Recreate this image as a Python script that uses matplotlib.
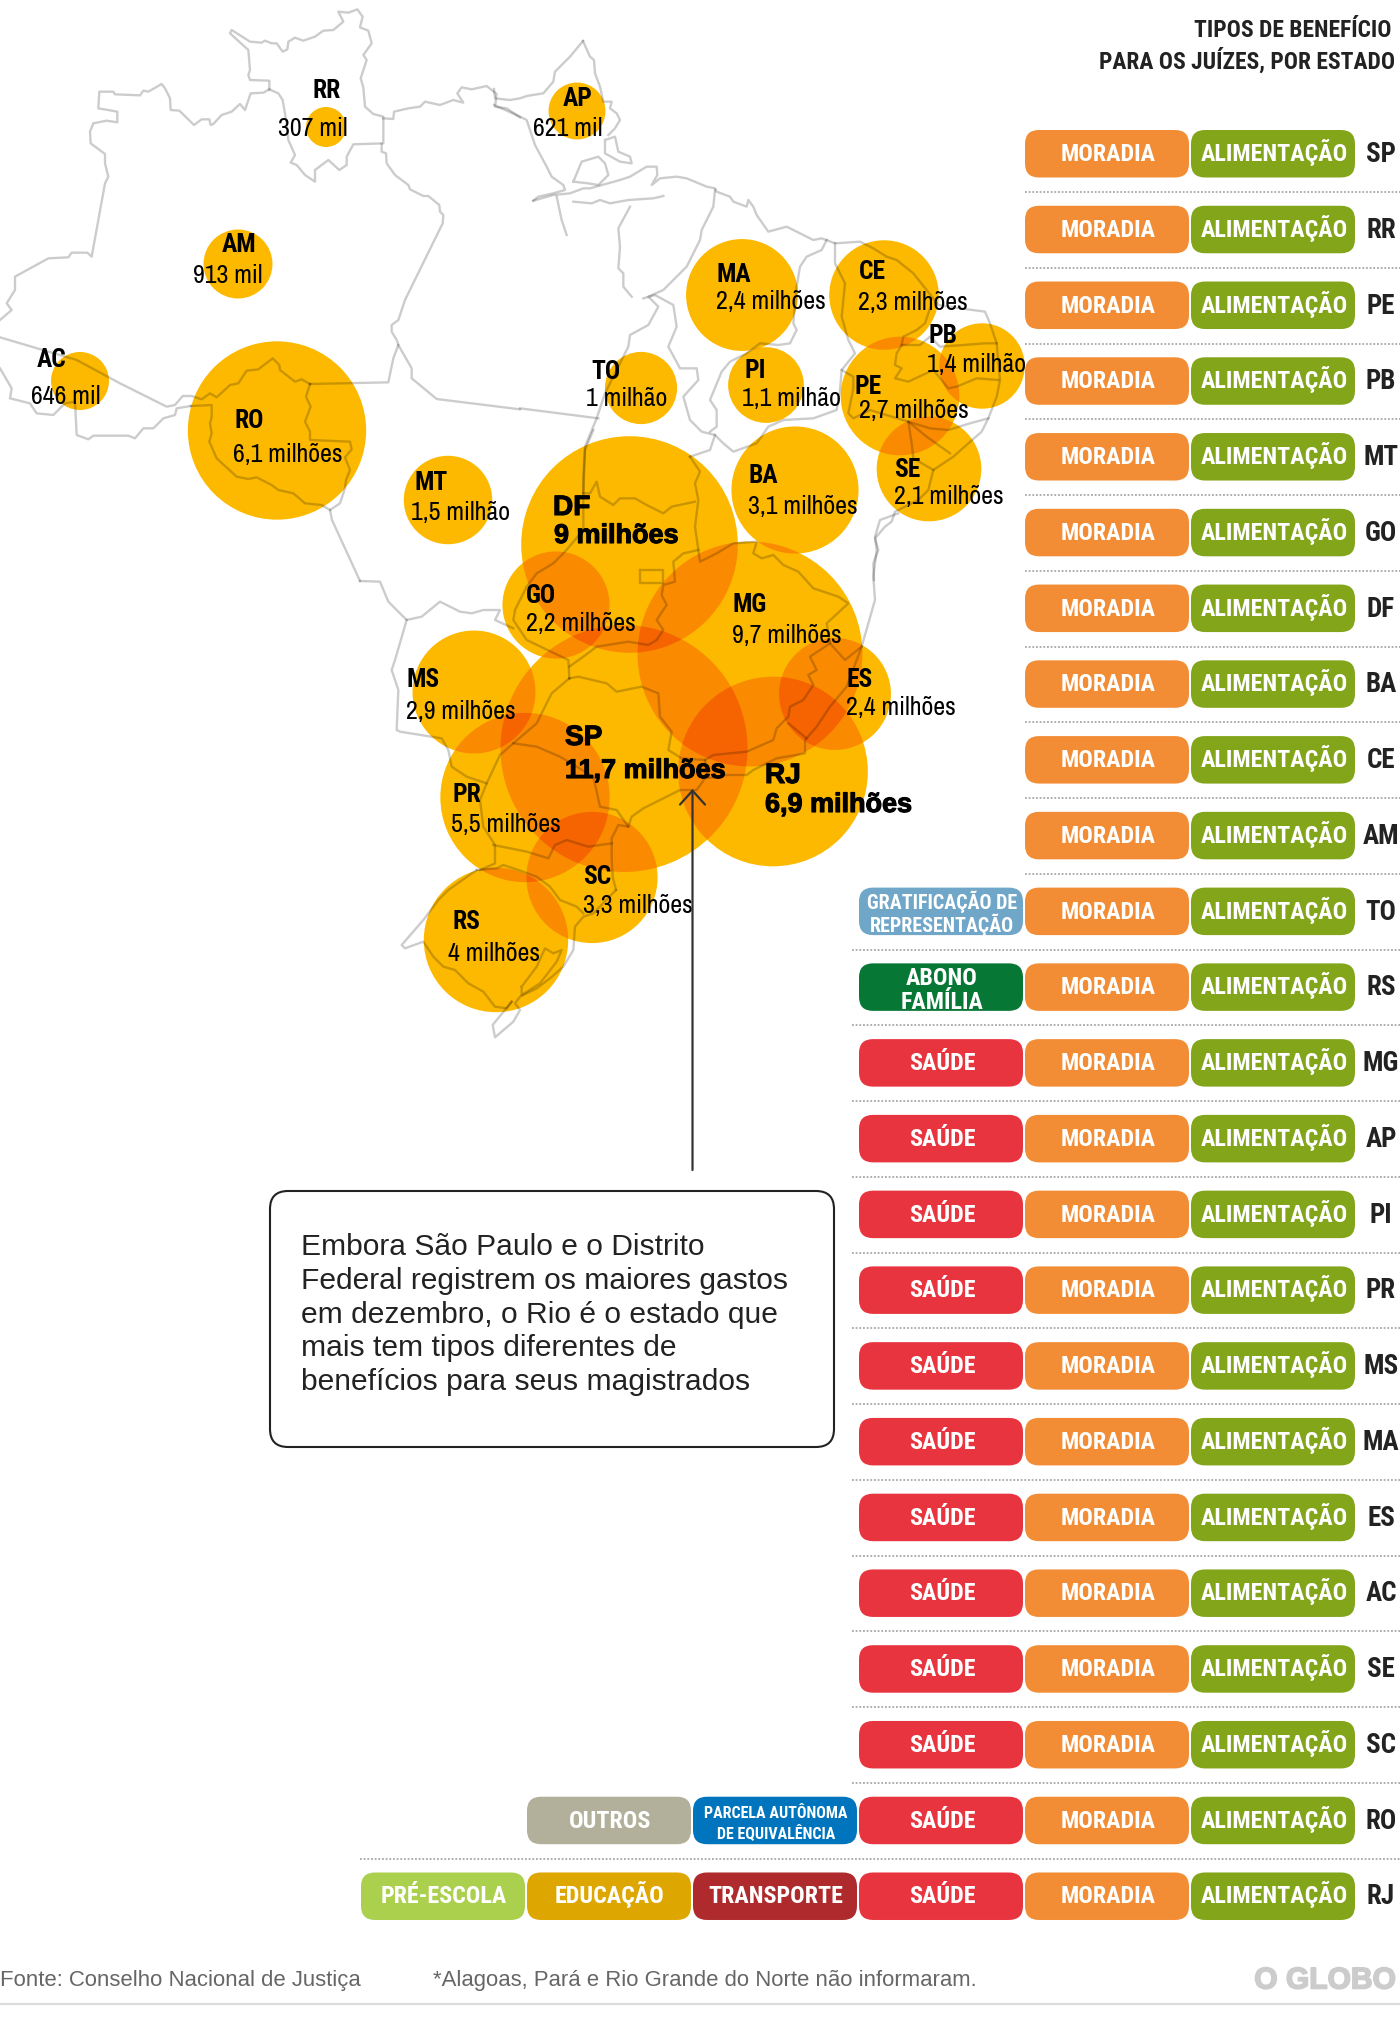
import itertools

import numpy as np
import matplotlib
matplotlib.use('Agg')
import matplotlib.pyplot as plt
import matplotlib.patheffects as pe
from matplotlib import font_manager
from matplotlib.patches import Circle, FancyBboxPatch, Polygon

installed = {f.name for f in font_manager.fontManager.ttflist}


def fonts(*names):
    return [n for n in names if n in installed] + ['Liberation Sans', 'DejaVu Sans']


NARROW = fonts('Archivo Narrow', 'Roboto Condensed')
PILL = fonts('Roboto Condensed', 'Archivo Narrow')
SANS = ['Liberation Sans', 'DejaVu Sans']

# map bubbles: value in millions, centre
states = ['RR', 'AP', 'AM', 'AC', 'RO', 'TO', 'MA', 'CE', 'PI', 'PB', 'PE', 'BA', 'SE', 'MT',
          'DF', 'GO', 'MG', 'MS', 'SP', 'PR', 'ES', 'RJ', 'SC', 'RS']
values = [0.307, 0.621, 0.913, 0.646, 6.1, 1.0, 2.4, 2.3, 1.1, 1.4, 2.7, 3.1, 2.1, 1.5,
          9.0, 2.2, 9.7, 2.9, 11.7, 5.5, 2.4, 6.9, 3.3, 4.0]
value_labels = ['307 mil', '621 mil', '913 mil', '646 mil', '6,1 milhões', '1 milhão', '2,4 milhões',
                '2,3 milhões', '1,1 milhão', '1,4 milhão', '2,7 milhões', '3,1 milhões', '2,1 milhões',
                '1,5 milhão', '9 milhões', '2,2 milhões', '9,7 milhões', '2,9 milhões', '11,7 milhões',
                '5,5 milhões', '2,4 milhões', '6,9 milhões', '3,3 milhões', '4 milhões']
centre_x = [326, 577, 238, 80, 277, 641, 742, 884, 766, 982, 900, 795, 929, 448,
            629.5, 556, 750, 474, 624, 525, 835, 773, 592, 496]
centre_y = [127, 111, 264, 381, 430.5, 388, 295, 295, 385, 366, 396, 490, 469, 500,
            544.5, 605, 654, 692, 748.5, 797.5, 694, 771.5, 877.5, 940]
# left edge and baseline of the two labels of each bubble
name_x = [313, 563, 222, 37, 234, 591, 717, 859, 745, 929, 854, 749, 894, 414,
          553, 526, 733, 406, 565, 452, 847, 765, 583, 453]
name_y = [98, 106, 252, 367, 428, 379, 282, 279, 378, 343, 394, 483, 477, 490,
          515, 603, 612, 687, 745, 802, 687, 783, 884, 929]
val_x = [278, 533, 193, 31, 233, 586, 716, 858, 742, 927, 859, 748, 894, 411,
         554, 526, 732, 406, 565, 451, 846, 765, 583, 448]
val_y = [136, 136, 283, 404, 462, 406, 309, 310, 406, 372, 418, 514, 504, 520,
         543, 631, 643, 719, 778, 832, 715, 812, 913, 961]
big_states = ['DF', 'SP', 'RJ']

# benefit table, one row per state, listed right to left
row_states = ['SP', 'RR', 'PE', 'PB', 'MT', 'GO', 'DF', 'BA', 'CE', 'AM', 'TO', 'RS', 'MG', 'AP',
              'PI', 'PR', 'MS', 'MA', 'ES', 'AC', 'SE', 'SC', 'RO', 'RJ']
base = ['ALIMENTAÇÃO', 'MORADIA']
saude = base + ['SAÚDE']
row_benefits = [base] * 10 + [
    base + ['GRATIFICAÇÃO DE\nREPRESENTAÇÃO'],
    base + ['ABONO\nFAMÍLIA'],
] + [saude] * 10 + [
    saude + ['PARCELA AUTÔNOMA\nDE EQUIVALÊNCIA', 'OUTROS'],
    saude + ['TRANSPORTE', 'EDUCAÇÃO', 'PRÉ-ESCOLA'],
]
benefit_colors = {
    'ALIMENTAÇÃO': '#82A519',
    'MORADIA': '#F28D35',
    'SAÚDE': '#E8343E',
    'GRATIFICAÇÃO DE\nREPRESENTAÇÃO': '#70A6C8',
    'ABONO\nFAMÍLIA': '#067735',
    'PARCELA AUTÔNOMA\nDE EQUIVALÊNCIA': '#0075BD',
    'OUTROS': '#B2AF9A',
    'TRANSPORTE': '#AE2A2C',
    'EDUCAÇÃO': '#DEA600',
    'PRÉ-ESCOLA': '#ABD04E',
}
benefit_sizes = {'GRATIFICAÇÃO DE\nREPRESENTAÇÃO': 20, 'ABONO\nFAMÍLIA': 24,
                 'PARCELA AUTÔNOMA\nDE EQUIVALÊNCIA': 16}
benefit_spacing = {'GRATIFICAÇÃO DE\nREPRESENTAÇÃO': 1.0, 'ABONO\nFAMÍLIA': 1.05,
                   'PARCELA AUTÔNOMA\nDE EQUIVALÊNCIA': 1.25}
# where the dotted rule under a row starts, by number of pills in that row
rule_start = {2: 1025, 3: 852, 5: 360}

# borders, in crop coordinates (3x, with the crop's origin)
borders_nw = [
    [(0, 960), (35, 930), (20, 910), (45, 870), (45, 830), (145, 775), (205, 772), (215, 758), (262, 758),
     (275, 770), (315, 550), (325, 530), (315, 490), (315, 462), (272, 430), (270, 395), (280, 370), (320, 362),
     (352, 367), (352, 335), (295, 325), (298, 275), (340, 275), (345, 283), (420, 286), (430, 272), (445, 275),
     (485, 252), (495, 265), (510, 295), (512, 330), (538, 332), (582, 375), (605, 358), (628, 358), (632, 375),
     (640, 372), (665, 345), (695, 335), (720, 312), (735, 330), (752, 280), (790, 278), (808, 268)],
    [(808, 268), (808, 242), (750, 240), (745, 225), (750, 210), (745, 150), (690, 100), (695, 90), (750, 125),
     (785, 128), (795, 122), (815, 130), (830, 130), (848, 155), (862, 148), (865, 125), (885, 113), (910, 122),
     (945, 110), (970, 92), (1000, 90), (1030, 65), (1015, 35), (1045, 38), (1072, 28), (1088, 50), (1080, 82),
     (1105, 92), (1115, 130), (1090, 165), (1100, 180), (1082, 235), (1090, 262), (1095, 320), (1120, 342),
     (1150, 350), (1150, 430), (1060, 433), (1040, 470), (1040, 495), (1018, 510), (985, 480), (945, 510),
     (945, 545), (915, 525), (890, 495), (872, 488), (885, 465), (865, 420), (860, 370), (848, 300), (835, 280),
     (808, 268)],
    [(1150, 355), (1180, 357), (1182, 335), (1225, 325), (1260, 320), (1275, 305), (1320, 315), (1360, 300),
     (1390, 308), (1372, 280), (1385, 262), (1415, 268), (1460, 258), (1490, 282), (1485, 320), (1520, 325),
     (1560, 352)],
    [(1145, 432), (1145, 455), (1158, 460), (1160, 490), (1185, 525), (1225, 555), (1230, 568), (1270, 588),
     (1285, 588), (1318, 615), (1320, 635), (1330, 645), (1328, 670), (1215, 900), (1195, 960), (1175, 975),
     (1175, 995), (1190, 1020), (1195, 1035), (1180, 1075), (1165, 1147), (930, 1152)],
    [(930, 1152), (905, 1138), (885, 1145), (840, 1110), (838, 1095), (818, 1075), (775, 1108), (740, 1112),
     (715, 1150), (690, 1155), (650, 1192), (630, 1180), (605, 1198), (575, 1188), (548, 1188), (525, 1215),
     (500, 1220), (360, 1150), (230, 1080), (0, 1012)],
    [(930, 1152), (918, 1190), (932, 1220), (915, 1265), (930, 1295), (930, 1320), (1050, 1325), (1055, 1348),
     (1035, 1372), (1050, 1410), (1038, 1440), (1035, 1465), (1020, 1510), (990, 1530), (996, 1560), (1080, 1743)],
    [(572, 1218), (635, 1215), (635, 1250), (630, 1270), (635, 1300), (628, 1325), (650, 1375), (710, 1430),
     (745, 1437), (770, 1432), (815, 1455), (835, 1470), (880, 1480), (915, 1510), (965, 1515), (990, 1530)],
    [(0, 1105), (35, 1165), (30, 1195), (90, 1210), (110, 1240), (160, 1245), (195, 1210), (225, 1205), (230, 1305),
     (265, 1318), (280, 1307), (385, 1307), (405, 1315), (430, 1285), (460, 1285), (490, 1255), (525, 1245),
     (530, 1225), (572, 1218)],
    [(1195, 1035), (1235, 1105), (1235, 1135), (1310, 1197), (1560, 1228)],
]
borders_ne = [
    [(0, 1045), (235, 1075)],
    [(189, -57), (210, -10), (222, 0), (225, 40), (240, 80), (250, 125), (275, 125), (270, 145), (290, 160),
     (300, 180), (285, 205), (265, 225)],
    [(189, -57), (150, -10), (105, 35), (100, 65), (70, 100), (20, 108), (0, 115), (-30, 120), (-75, 115),
     (-78, 87)],
    [(-78, 135), (0, 170), (20, 180), (45, 255), (80, 320), (95, 350), (130, 375), (135, 390), (100, 400),
     (55, 410), (40, 422)],
    [(40, 422), (100, 405), (150, 400), (190, 385), (210, 385), (300, 360), (330, 350), (380, 320), (410, 320),
     (412, 345), (395, 375), (420, 355), (470, 350), (500, 355), (560, 380), (585, 385), (590, 395), (630, 410),
     (640, 425), (680, 440), (685, 420), (700, 440), (710, 465), (745, 515), (800, 500), (840, 520), (880, 540),
     (905, 535), (945, 550), (1020, 545), (1060, 565), (1100, 590), (1130, 600), (1180, 640), (1220, 690),
     (1255, 735), (1320, 745), (1395, 755), (1410, 790), (1430, 850), (1440, 960), (1430, 1010), (1405, 1075),
     (1385, 1115), (1345, 1150), (1300, 1190), (1240, 1230), (1225, 1290), (1195, 1320), (1125, 1355),
     (1115, 1385), (1095, 1400), (1065, 1435), (1075, 1470), (1060, 1510), (1062, 1560)],
    [(160, 365), (185, 305), (235, 290), (255, 310), (265, 345), (235, 375), (205, 370), (160, 365)],
    [(255, 240), (285, 230), (295, 275), (330, 290), (335, 310), (300, 305), (255, 280), (255, 240)],
    [(160, 425), (215, 430), (240, 420), (270, 430), (325, 420), (400, 415), (430, 408)],
    [(110, 410), (125, 480), (140, 525)],
    [(330, 440), (295, 505), (300, 560), (295, 625), (310, 640), (310, 680), (335, 710)],
    [(585, 390), (580, 440), (545, 510), (540, 540), (500, 620), (430, 690), (385, 710), (415, 740), (385, 795),
     (330, 825), (325, 860), (255, 1000), (230, 1075), (195, 1160), (190, 1250), (190, 1300)],
    [(370, 715), (405, 705), (460, 735), (470, 800), (445, 860), (480, 925), (530, 925), (535, 960), (490, 1010),
     (510, 1080), (545, 1115), (585, 1125), (570, 1170), (510, 1190)],
    [(920, 540), (905, 570), (860, 590), (840, 620), (830, 680), (820, 790), (830, 810), (810, 850), (775, 855),
     (720, 850), (680, 880), (630, 905), (605, 935), (570, 1020), (590, 1050), (590, 1100), (570, 1115)],
    [(945, 550), (945, 610), (975, 670), (965, 770), (985, 840), (1005, 880), (965, 930), (960, 990), (950, 1050),
     (880, 1075), (790, 1080), (745, 1100), (710, 1150), (640, 1175), (610, 1150), (585, 1125)],
    [(1230, 745), (1215, 790), (1190, 810), (1150, 830), (1145, 855), (1200, 855), (1230, 830), (1260, 860),
     (1330, 855), (1395, 850), (1430, 850)],
    [(1145, 855), (1130, 880), (1125, 915), (1145, 925), (1125, 955), (1165, 965), (1240, 930), (1285, 985),
     (1310, 980), (1370, 955), (1435, 960)],
    [(965, 930), (1000, 950), (1000, 985), (985, 1060), (1000, 1075), (1050, 1050), (1165, 1085), (1175, 1150),
     (1180, 1195), (1240, 1230)],
    [(1165, 1085), (1230, 1105), (1285, 1110), (1350, 1090), (1405, 1075)],
    [(1165, 1085), (1220, 1130), (1290, 1180)],
]
borders_centre = [
    [(640, 0), (615, 60), (610, 190), (610, 300), (555, 365), (520, 400), (470, 430), (440, 470), (405, 540),
     (400, 570), (440, 630), (565, 690), (568, 745)],
    [(610, 190), (630, 190), (650, 155), (660, 200), (700, 225), (720, 205), (765, 205), (800, 225), (850, 250),
     (875, 230), (945, 215)],
    [(930, 80), (960, 125), (945, 160), (955, 210), (945, 290), (955, 360), (910, 370), (880, 395), (885, 455),
     (850, 465), (845, 495), (860, 525), (830, 570), (850, 600), (830, 630), (805, 645), (745, 635), (650, 650),
     (610, 680), (568, 710)],
    [(955, 360), (960, 395), (1010, 370), (1060, 340), (1130, 335), (1120, 370), (1145, 385), (1180, 375),
     (1210, 405), (1255, 425), (1300, 475), (1375, 500), (1405, 520), (1340, 580), (1350, 640), (1290, 680),
     (1310, 720), (1285, 735), (1300, 765), (1270, 810), (1230, 830), (1225, 860), (1190, 895), (1180, 930),
     (1100, 965), (1000, 975), (975, 990)],
    [(1350, 640), (1395, 690), (1445, 650)],
    [(1555, 250), (1500, 270), (1485, 320), (1490, 360), (1480, 440), (1485, 510), (1445, 650), (1400, 770),
     (1350, 830), (1310, 890), (1275, 930), (1275, 970), (1190, 985), (1120, 1020), (1100, 1035), (1040, 1035),
     (1015, 1040), (975, 1045), (950, 1080), (900, 1080), (860, 1100), (790, 1135), (755, 1160), (745, 1190),
     (715, 1185), (695, 1225), (695, 1290), (698, 1340), (708, 1380)],
    [(1225, 880), (1280, 925)],
    [(568, 745), (595, 740), (680, 760), (710, 785), (785, 770), (835, 790), (840, 860), (875, 905), (865, 960),
     (905, 985), (975, 990), (985, 1040)],
    [(568, 745), (515, 790), (490, 840), (470, 880), (400, 940), (360, 975), (320, 1060)],
    [(-60, 453), (0, 455), (25, 515), (80, 570), (125, 560), (180, 515), (240, 545), (275, 550), (310, 540),
     (360, 540), (345, 570), (400, 595)],
    [(80, 570), (45, 690), (35, 720), (55, 780), (50, 900), (60, 905), (185, 925), (205, 960), (215, 1010),
     (260, 1040), (320, 1060), (300, 1110), (310, 1190), (345, 1245), (345, 1300), (300, 1320)],
    [(400, 940), (470, 950), (540, 980), (640, 1040), (660, 1130), (710, 1140), (745, 1190)],
    [(340, 1245), (440, 1265), (505, 1285), (525, 1245), (560, 1230), (625, 1250), (695, 1240)],
    [(780, 420), (848, 420), (848, 458), (780, 458), (780, 420)],
]
borders_south = [
    [(290, 510), (350, 505), (370, 495), (415, 510), (470, 530), (510, 560), (540, 600), (590, 620), (610, 640)],
    [(708, 570), (640, 640), (610, 650), (585, 680), (580, 750), (550, 800), (510, 835), (470, 865), (420, 890),
     (405, 910), (420, 930), (400, 965), (345, 1012), (338, 975), (395, 905)],
    [(290, 510), (240, 545), (205, 570), (175, 600), (130, 660), (65, 735), (75, 745), (130, 725), (160, 770),
     (190, 800), (225, 810), (265, 850), (310, 875), (345, 920), (380, 925), (395, 905)],
    [(425, 860), (470, 800), (495, 745), (520, 760), (545, 750), (530, 785), (480, 850), (425, 885), (425, 860)],
]
border_groups = [(borders_nw, 0, 0), (borders_ne, 520, 60), (borders_centre, 380, 430), (borders_south, 380, 700)]

callout_lines = ['Embora São Paulo e o Distrito', 'Federal registrem os maiores gastos',
                 'em dezembro, o Rio é o estado que', 'mais tem tipos diferentes de',
                 'benefícios para seus magistrados']
overlap_colors = ['#FDB900', '#FA8B00', '#F56400']


def fs(px):
    return px * 0.72


def lens(a, b, c=None):
    # convex overlap of bubbles as a polygon
    group = [g for g in (a, b, c) if g is not None]
    t = np.linspace(0, 2 * np.pi, 720, endpoint=False)
    pts = []
    for g in group:
        x = g[0] + g[2] * np.cos(t)
        y = g[1] + g[2] * np.sin(t)
        keep = np.ones(len(t), dtype=bool)
        for o in group:
            if o is not g:
                keep &= np.hypot(x - o[0], y - o[1]) <= o[2]
        pts.append(np.column_stack([x[keep], y[keep]]))
    pts = np.vstack(pts)
    if len(pts) < 3:
        return None
    mid = pts.mean(axis=0)
    order = np.argsort(np.arctan2(pts[:, 1] - mid[1], pts[:, 0] - mid[0]))
    return pts[order]


fig = plt.figure(figsize=(14, 20.22), dpi=100)
ax = fig.add_axes([0, 0, 1, 1])
ax.set_xlim(0, 1400)
ax.set_ylim(2022, 0)
ax.axis('off')

# bubbles: area follows the value
radii = [36.1 * np.sqrt(v) for v in values]
bubbles = list(zip(centre_x, centre_y, radii))
for b in bubbles:
    ax.add_patch(Circle(b[:2], b[2], facecolor=overlap_colors[0], edgecolor='none', zorder=1))
for a, b in itertools.combinations(bubbles, 2):
    poly = lens(a, b)
    if poly is not None:
        ax.add_patch(Polygon(poly, facecolor=overlap_colors[1], edgecolor='none', zorder=2))
for a, b, c in itertools.combinations(bubbles, 3):
    poly = lens(a, b, c)
    if poly is not None:
        ax.add_patch(Polygon(poly, facecolor=overlap_colors[2], edgecolor='none', zorder=3))

# borders are translucent black so they darken over the bubbles
for group, ox, oy in border_groups:
    for line in group:
        pts = np.array(line, dtype=float)
        ax.plot(ox + pts[:, 0] / 3, oy + pts[:, 1] / 3, color='black', alpha=0.2, lw=1.7,
                solid_joinstyle='round', zorder=4)

heavy = [pe.withStroke(linewidth=0.8, foreground='black')]
for i, st in enumerate(states):
    if st in big_states:
        ax.text(name_x[i], name_y[i], st, family=SANS, fontweight='bold', fontsize=fs(28), color='black',
                va='baseline', zorder=6, path_effects=heavy)
        ax.text(val_x[i], val_y[i], value_labels[i], family=SANS, fontweight='bold', fontsize=fs(27), color='black',
                va='baseline', zorder=6, path_effects=heavy)
    else:
        ax.text(name_x[i], name_y[i], st, family=PILL, fontweight='bold', fontsize=fs(25.5), color='black',
                va='baseline', zorder=6)
        ax.text(val_x[i], val_y[i], value_labels[i], family=NARROW, fontsize=fs(26), color='black',
                va='baseline', zorder=6)

# arrow from the callout to Rio / Sao Paulo
ax.annotate('', xy=(692.5, 789), xytext=(692.5, 1170), zorder=7,
            arrowprops=dict(arrowstyle='->,head_length=0.5,head_width=0.45', color='#333333', lw=1.6,
                            mutation_scale=20, shrinkA=0, shrinkB=0))

# callout
ax.add_patch(FancyBboxPatch((270, 1191), 564, 256, boxstyle='round,pad=0,rounding_size=18',
                            facecolor='white', edgecolor='#222222', lw=1.5, zorder=5))
for i, line in enumerate(callout_lines):
    ax.text(301, 1255 + i * 33.8, line, family=SANS, fontsize=fs(30), color='#222222', va='baseline', zorder=6)

# benefits table
ax.text(1391, 37, 'TIPOS DE BENEFÍCIO', family=PILL, fontweight='bold', fontsize=fs(23.5), color='#222222',
        ha='right', va='baseline')
ax.text(1395, 69, 'PARA OS JUÍZES, POR ESTADO', family=PILL, fontweight='bold', fontsize=fs(23.5), color='#222222',
        ha='right', va='baseline')

pill_w, pill_h, pitch_x, pitch_y = 164, 47.5, 166, 75.76
for r, (st, row) in enumerate(zip(row_states, row_benefits)):
    y0 = 130 + r * pitch_y
    for c, name in enumerate(row):
        x0 = 1191 - c * pitch_x
        ax.add_patch(FancyBboxPatch((x0, y0), pill_w, pill_h, boxstyle='round,pad=0,rounding_size=14',
                                    facecolor=benefit_colors[name], edgecolor='none', zorder=2))
        if '\n' in name:
            ax.text(x0 + pill_w / 2 + 1, y0 + pill_h / 2, name, family=PILL, fontweight='bold',
                    fontsize=fs(benefit_sizes[name]), color='white', ha='center', va='center_baseline',
                    linespacing=benefit_spacing[name], zorder=3)
        else:
            ax.text(x0 + pill_w / 2 + 1, y0 + 31, name, family=PILL, fontweight='bold',
                    fontsize=fs(24), color='white', ha='center', va='baseline', zorder=3)
    ax.text(1381, y0 + 32, st, family=PILL, fontweight='bold', fontsize=fs(27), color='#222222',
            ha='center', va='baseline', zorder=3)
    if r < len(row_states) - 1:
        ax.plot([rule_start[len(row)], 1400], [y0 + 62, y0 + 62], color='#999999', lw=1.1,
                ls=(0, (1.2, 1.2)), zorder=1)

# footer
ax.text(0, 1986, 'Fonte: Conselho Nacional de Justiça', family=SANS, fontsize=fs(22.2), color='#666666',
        va='baseline')
ax.text(433, 1986, '*Alagoas, Pará e Rio Grande do Norte não informaram.', family=SANS, fontsize=fs(22.1),
        color='#666666', va='baseline')
ax.text(1396, 1988.5, 'O GLOBO', family=SANS, fontweight='bold', fontsize=fs(30), color='#CCCCCC', ha='right',
        va='baseline', path_effects=[pe.withStroke(linewidth=1.2, foreground='#CCCCCC')])
ax.plot([0, 1400], [2003.5, 2003.5], color='#DDDDDD', lw=1.6)

fig.savefig('out.png', dpi=100)
